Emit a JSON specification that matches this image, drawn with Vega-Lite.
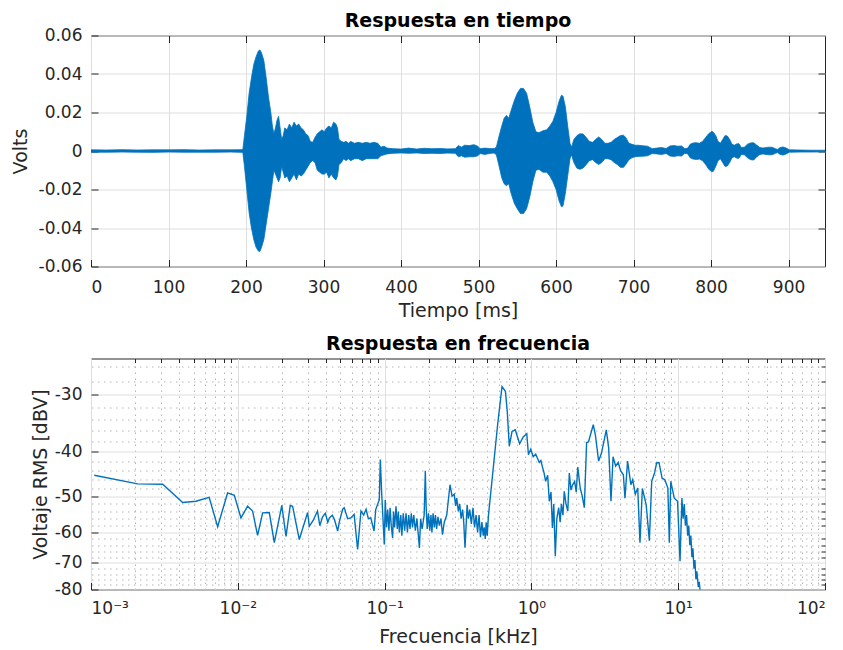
{
  "$schema": "https://vega.github.io/schema/vega-lite/v6.json",
  "background": "white",
  "padding": {"left": 10, "top": 10.5, "right": 5, "bottom": 0},
  "bounds": "flush",
  "spacing": 92,
  "config": {
    "font": "DejaVu Sans",
    "view": {"stroke": "#262626", "strokeWidth": 1},
    "axis": {
      "labelFont": "DejaVu Sans", "labelFontSize": 17, "labelColor": "#262626",
      "titleFont": "DejaVu Sans", "titleFontSize": 19, "titleFontWeight": "normal", "titleColor": "#262626",
      "domain": false, "tickColor": "#262626", "tickSize": -7, "tickWidth": 1,
      "gridColor": "#dedede", "gridWidth": 1
    },
    "title": {"font": "DejaVu Sans", "fontSize": 19, "fontWeight": "bold", "color": "#000000", "offset": -4, "frame": "group"}
  },
  "datasets": {
    "wave": [
      {"t": 0, "hi": 0.0006, "lo": -0.0006}, {"t": 20, "hi": 0.0005, "lo": -0.0006}, {"t": 40, "hi": 0.0007, "lo": -0.0005},
      {"t": 60, "hi": 0.0005, "lo": -0.0006}, {"t": 80, "hi": 0.0006, "lo": -0.0007}, {"t": 100, "hi": 0.0006, "lo": -0.0005},
      {"t": 120, "hi": 0.0007, "lo": -0.0006}, {"t": 140, "hi": 0.0005, "lo": -0.0006}, {"t": 160, "hi": 0.0006, "lo": -0.0006},
      {"t": 180, "hi": 0.0006, "lo": -0.0005}, {"t": 195, "hi": 0.0007, "lo": -0.0007},
      {"t": 196, "hi": 0.001, "lo": -0.001}, {"t": 198, "hi": 0.008, "lo": -0.008}, {"t": 201, "hi": 0.018, "lo": -0.02},
      {"t": 204, "hi": 0.03, "lo": -0.032}, {"t": 207, "hi": 0.038, "lo": -0.04}, {"t": 210, "hi": 0.045, "lo": -0.046},
      {"t": 213, "hi": 0.049, "lo": -0.05}, {"t": 216, "hi": 0.052, "lo": -0.052}, {"t": 218, "hi": 0.0525, "lo": -0.0522},
      {"t": 220, "hi": 0.051, "lo": -0.05}, {"t": 223, "hi": 0.047, "lo": -0.046}, {"t": 226, "hi": 0.038, "lo": -0.038},
      {"t": 229, "hi": 0.028, "lo": -0.03}, {"t": 232, "hi": 0.02, "lo": -0.022}, {"t": 234, "hi": 0.013, "lo": -0.016},
      {"t": 236, "hi": 0.009, "lo": -0.01}, {"t": 238, "hi": 0.012, "lo": -0.012}, {"t": 240, "hi": 0.016, "lo": -0.014},
      {"t": 242, "hi": 0.018, "lo": -0.016}, {"t": 244, "hi": 0.012, "lo": -0.014}, {"t": 246, "hi": 0.006, "lo": -0.008},
      {"t": 248, "hi": 0.008, "lo": -0.011}, {"t": 250, "hi": 0.012, "lo": -0.014}, {"t": 253, "hi": 0.011, "lo": -0.013},
      {"t": 256, "hi": 0.014, "lo": -0.016}, {"t": 259, "hi": 0.012, "lo": -0.014}, {"t": 262, "hi": 0.015, "lo": -0.012},
      {"t": 265, "hi": 0.013, "lo": -0.015}, {"t": 268, "hi": 0.014, "lo": -0.012}, {"t": 271, "hi": 0.012, "lo": -0.013},
      {"t": 274, "hi": 0.011, "lo": -0.012}, {"t": 277, "hi": 0.009, "lo": -0.01}, {"t": 280, "hi": 0.008, "lo": -0.008},
      {"t": 283, "hi": 0.005, "lo": -0.006}, {"t": 286, "hi": 0.0045, "lo": -0.005}, {"t": 289, "hi": 0.007, "lo": -0.006},
      {"t": 292, "hi": 0.009, "lo": -0.01}, {"t": 295, "hi": 0.01, "lo": -0.011}, {"t": 298, "hi": 0.011, "lo": -0.012},
      {"t": 301, "hi": 0.01, "lo": -0.012}, {"t": 304, "hi": 0.012, "lo": -0.011}, {"t": 307, "hi": 0.013, "lo": -0.014},
      {"t": 310, "hi": 0.012, "lo": -0.012}, {"t": 313, "hi": 0.015, "lo": -0.014}, {"t": 316, "hi": 0.014, "lo": -0.015},
      {"t": 318, "hi": 0.012, "lo": -0.013}, {"t": 320, "hi": 0.006, "lo": -0.007}, {"t": 323, "hi": 0.005, "lo": -0.006},
      {"t": 326, "hi": 0.0045, "lo": -0.004}, {"t": 329, "hi": 0.005, "lo": -0.005}, {"t": 332, "hi": 0.004, "lo": -0.004},
      {"t": 335, "hi": 0.005, "lo": -0.005}, {"t": 340, "hi": 0.004, "lo": -0.004}, {"t": 345, "hi": 0.0045, "lo": -0.004},
      {"t": 350, "hi": 0.004, "lo": -0.005}, {"t": 355, "hi": 0.0045, "lo": -0.004}, {"t": 360, "hi": 0.004, "lo": -0.004},
      {"t": 365, "hi": 0.0045, "lo": -0.004}, {"t": 370, "hi": 0.004, "lo": -0.004}, {"t": 374, "hi": 0.002, "lo": -0.0025},
      {"t": 378, "hi": 0.0025, "lo": -0.002}, {"t": 382, "hi": 0.0015, "lo": -0.0015}, {"t": 390, "hi": 0.0012, "lo": -0.0012},
      {"t": 400, "hi": 0.001, "lo": -0.001}, {"t": 410, "hi": 0.0015, "lo": -0.0012}, {"t": 420, "hi": 0.001, "lo": -0.001},
      {"t": 430, "hi": 0.0014, "lo": -0.0013}, {"t": 440, "hi": 0.0012, "lo": -0.0012}, {"t": 450, "hi": 0.0013, "lo": -0.0013},
      {"t": 460, "hi": 0.0011, "lo": -0.0011}, {"t": 470, "hi": 0.0012, "lo": -0.0012}, {"t": 474, "hi": 0.0028, "lo": -0.003},
      {"t": 478, "hi": 0.002, "lo": -0.0025}, {"t": 482, "hi": 0.003, "lo": -0.0032}, {"t": 488, "hi": 0.0028, "lo": -0.003},
      {"t": 494, "hi": 0.0033, "lo": -0.003}, {"t": 499, "hi": 0.0025, "lo": -0.0025}, {"t": 502, "hi": 0.0012, "lo": -0.0013},
      {"t": 508, "hi": 0.0015, "lo": -0.0018}, {"t": 514, "hi": 0.0013, "lo": -0.0013}, {"t": 520, "hi": 0.0012, "lo": -0.001},
      {"t": 523, "hi": 0.002, "lo": -0.002}, {"t": 526, "hi": 0.007, "lo": -0.007}, {"t": 530, "hi": 0.013, "lo": -0.014},
      {"t": 533, "hi": 0.017, "lo": -0.017}, {"t": 536, "hi": 0.0185, "lo": -0.018}, {"t": 539, "hi": 0.017, "lo": -0.017},
      {"t": 542, "hi": 0.021, "lo": -0.022}, {"t": 546, "hi": 0.026, "lo": -0.027}, {"t": 550, "hi": 0.03, "lo": -0.03},
      {"t": 554, "hi": 0.0325, "lo": -0.0325}, {"t": 558, "hi": 0.0325, "lo": -0.0325}, {"t": 562, "hi": 0.03, "lo": -0.03},
      {"t": 566, "hi": 0.023, "lo": -0.024}, {"t": 570, "hi": 0.015, "lo": -0.016}, {"t": 574, "hi": 0.01, "lo": -0.01},
      {"t": 578, "hi": 0.0095, "lo": -0.0095}, {"t": 583, "hi": 0.0105, "lo": -0.011}, {"t": 588, "hi": 0.011, "lo": -0.011},
      {"t": 592, "hi": 0.013, "lo": -0.013}, {"t": 596, "hi": 0.0155, "lo": -0.016}, {"t": 600, "hi": 0.02, "lo": -0.02},
      {"t": 604, "hi": 0.026, "lo": -0.026}, {"t": 607, "hi": 0.029, "lo": -0.029}, {"t": 609, "hi": 0.0285, "lo": -0.0285},
      {"t": 612, "hi": 0.023, "lo": -0.022}, {"t": 615, "hi": 0.013, "lo": -0.013}, {"t": 618, "hi": 0.004, "lo": -0.004},
      {"t": 620, "hi": 0.002, "lo": -0.002}, {"t": 623, "hi": 0.006, "lo": -0.006}, {"t": 627, "hi": 0.008, "lo": -0.009},
      {"t": 631, "hi": 0.009, "lo": -0.0095}, {"t": 635, "hi": 0.0088, "lo": -0.0088}, {"t": 639, "hi": 0.007, "lo": -0.007},
      {"t": 643, "hi": 0.005, "lo": -0.005}, {"t": 647, "hi": 0.0045, "lo": -0.0045}, {"t": 651, "hi": 0.006, "lo": -0.006},
      {"t": 655, "hi": 0.0073, "lo": -0.007}, {"t": 659, "hi": 0.006, "lo": -0.006}, {"t": 663, "hi": 0.004, "lo": -0.004},
      {"t": 667, "hi": 0.004, "lo": -0.004}, {"t": 671, "hi": 0.0045, "lo": -0.0045}, {"t": 675, "hi": 0.006, "lo": -0.006},
      {"t": 679, "hi": 0.007, "lo": -0.007}, {"t": 683, "hi": 0.008, "lo": -0.0085}, {"t": 687, "hi": 0.0082, "lo": -0.0085},
      {"t": 690, "hi": 0.007, "lo": -0.007}, {"t": 694, "hi": 0.004, "lo": -0.0045}, {"t": 698, "hi": 0.0035, "lo": -0.0035},
      {"t": 702, "hi": 0.003, "lo": -0.003}, {"t": 706, "hi": 0.003, "lo": -0.0028}, {"t": 712, "hi": 0.0027, "lo": -0.0027},
      {"t": 718, "hi": 0.0025, "lo": -0.0025}, {"t": 724, "hi": 0.0012, "lo": -0.0013}, {"t": 730, "hi": 0.0015, "lo": -0.0015},
      {"t": 736, "hi": 0.0018, "lo": -0.0018}, {"t": 742, "hi": 0.0013, "lo": -0.0013}, {"t": 747, "hi": 0.0026, "lo": -0.0026},
      {"t": 752, "hi": 0.0028, "lo": -0.0028}, {"t": 757, "hi": 0.0025, "lo": -0.0025}, {"t": 762, "hi": 0.0026, "lo": -0.0026},
      {"t": 766, "hi": 0.0012, "lo": -0.0012}, {"t": 770, "hi": 0.0015, "lo": -0.0015}, {"t": 773, "hi": 0.0035, "lo": -0.0035},
      {"t": 777, "hi": 0.0042, "lo": -0.0042}, {"t": 781, "hi": 0.0043, "lo": -0.0044}, {"t": 785, "hi": 0.004, "lo": -0.0042},
      {"t": 789, "hi": 0.005, "lo": -0.005}, {"t": 793, "hi": 0.007, "lo": -0.007}, {"t": 797, "hi": 0.009, "lo": -0.0095},
      {"t": 801, "hi": 0.0102, "lo": -0.0108}, {"t": 803, "hi": 0.0098, "lo": -0.0105}, {"t": 806, "hi": 0.008, "lo": -0.008},
      {"t": 809, "hi": 0.005, "lo": -0.005}, {"t": 812, "hi": 0.004, "lo": -0.004}, {"t": 815, "hi": 0.006, "lo": -0.006},
      {"t": 818, "hi": 0.008, "lo": -0.008}, {"t": 821, "hi": 0.0078, "lo": -0.0078}, {"t": 824, "hi": 0.006, "lo": -0.006},
      {"t": 827, "hi": 0.0035, "lo": -0.0035}, {"t": 830, "hi": 0.003, "lo": -0.003}, {"t": 833, "hi": 0.0037, "lo": -0.0037},
      {"t": 836, "hi": 0.0038, "lo": -0.0038}, {"t": 839, "hi": 0.0018, "lo": -0.0018}, {"t": 843, "hi": 0.002, "lo": -0.002},
      {"t": 847, "hi": 0.0035, "lo": -0.0035}, {"t": 851, "hi": 0.0042, "lo": -0.0045}, {"t": 855, "hi": 0.0043, "lo": -0.0047},
      {"t": 859, "hi": 0.003, "lo": -0.003}, {"t": 863, "hi": 0.0018, "lo": -0.0018}, {"t": 867, "hi": 0.0015, "lo": -0.0015},
      {"t": 871, "hi": 0.0018, "lo": -0.0018}, {"t": 875, "hi": 0.002, "lo": -0.002}, {"t": 879, "hi": 0.0019, "lo": -0.0019},
      {"t": 883, "hi": 0.0012, "lo": -0.0012}, {"t": 886, "hi": 0.0008, "lo": -0.0008}, {"t": 889, "hi": 0.0018, "lo": -0.0018},
      {"t": 893, "hi": 0.0021, "lo": -0.0021}, {"t": 897, "hi": 0.0015, "lo": -0.0015}, {"t": 901, "hi": 0.0006, "lo": -0.0006},
      {"t": 915, "hi": 0.0005, "lo": -0.0005}, {"t": 930, "hi": 0.0004, "lo": -0.0005}, {"t": 947, "hi": 0.0004, "lo": -0.0004}
    ],
    "spec": [
      {"f": 0.001053, "v": -45.0}, {"f": 0.00208, "v": -47.0}, {"f": 0.00308, "v": -47.1}, {"f": 0.00421, "v": -51.6},
      {"f": 0.00519, "v": -51.3}, {"f": 0.00638, "v": -50.3}, {"f": 0.00729, "v": -58.3}, {"f": 0.00852, "v": -49.2},
      {"f": 0.00947, "v": -49.8}, {"f": 0.01051, "v": -55.8}, {"f": 0.01166, "v": -52.6}, {"f": 0.01261, "v": -53.9},
      {"f": 0.01364, "v": -60.9}, {"f": 0.01476, "v": -54.4}, {"f": 0.01639, "v": -54.3}, {"f": 0.01773, "v": -63.2},
      {"f": 0.01994, "v": -52.4}, {"f": 0.0213, "v": -61.2}, {"f": 0.02276, "v": -52.4}, {"f": 0.02362, "v": -52.6},
      {"f": 0.02624, "v": -62.2}, {"f": 0.02989, "v": -54.3}, {"f": 0.0307, "v": -58.2}, {"f": 0.0326, "v": -56.5},
      {"f": 0.0349, "v": -53.9}, {"f": 0.0362, "v": -58.0}, {"f": 0.0378, "v": -55.5}, {"f": 0.0395, "v": -54.5},
      {"f": 0.041, "v": -57.0}, {"f": 0.0421, "v": -55.8}, {"f": 0.044, "v": -55.0}, {"f": 0.0455, "v": -56.2},
      {"f": 0.0479, "v": -59.6}, {"f": 0.0491, "v": -57.0}, {"f": 0.0518, "v": -53.4}, {"f": 0.0531, "v": -53.0},
      {"f": 0.056, "v": -56.0}, {"f": 0.0588, "v": -55.8}, {"f": 0.062, "v": -54.8}, {"f": 0.0655, "v": -65.4},
      {"f": 0.069, "v": -53.9}, {"f": 0.072, "v": -55.0}, {"f": 0.0748, "v": -53.4}, {"f": 0.0775, "v": -56.0},
      {"f": 0.0805, "v": -55.8}, {"f": 0.0847, "v": -59.6}, {"f": 0.087, "v": -53.5}, {"f": 0.092, "v": -50.9},
      {"f": 0.0935, "v": -41.6}, {"f": 0.0955, "v": -49.2}, {"f": 0.0995, "v": -63.8}, {"f": 0.101, "v": -51.0},
      {"f": 0.103, "v": -58.5}, {"f": 0.105, "v": -53.5}, {"f": 0.107, "v": -59.5}, {"f": 0.109, "v": -53.0},
      {"f": 0.111, "v": -58.0}, {"f": 0.1134, "v": -61.7}, {"f": 0.115, "v": -54.0}, {"f": 0.117, "v": -58.5},
      {"f": 0.1196, "v": -52.6}, {"f": 0.122, "v": -59.0}, {"f": 0.124, "v": -54.0}, {"f": 0.126, "v": -60.0},
      {"f": 0.129, "v": -55.0}, {"f": 0.131, "v": -61.0}, {"f": 0.134, "v": -54.5}, {"f": 0.137, "v": -59.5},
      {"f": 0.14, "v": -54.5}, {"f": 0.143, "v": -60.0}, {"f": 0.146, "v": -55.0}, {"f": 0.149, "v": -59.0},
      {"f": 0.152, "v": -54.5}, {"f": 0.155, "v": -58.5}, {"f": 0.158, "v": -55.0}, {"f": 0.162, "v": -59.5},
      {"f": 0.166, "v": -56.0}, {"f": 0.1726, "v": -64.9}, {"f": 0.176, "v": -56.0}, {"f": 0.18, "v": -59.0},
      {"f": 0.186, "v": -55.0}, {"f": 0.1894, "v": -44.0}, {"f": 0.192, "v": -53.0}, {"f": 0.195, "v": -59.0},
      {"f": 0.199, "v": -54.5}, {"f": 0.203, "v": -59.5}, {"f": 0.207, "v": -55.0}, {"f": 0.21, "v": -60.0},
      {"f": 0.214, "v": -54.5}, {"f": 0.218, "v": -58.5}, {"f": 0.222, "v": -55.0}, {"f": 0.226, "v": -59.0},
      {"f": 0.231, "v": -55.5}, {"f": 0.236, "v": -58.0}, {"f": 0.242, "v": -56.0}, {"f": 0.248, "v": -60.7},
      {"f": 0.255, "v": -57.0}, {"f": 0.265, "v": -55.0}, {"f": 0.279, "v": -47.2}, {"f": 0.288, "v": -50.0},
      {"f": 0.2977, "v": -49.5}, {"f": 0.305, "v": -52.5}, {"f": 0.31, "v": -50.5}, {"f": 0.318, "v": -54.0},
      {"f": 0.325, "v": -52.0}, {"f": 0.332, "v": -56.0}, {"f": 0.34, "v": -53.5}, {"f": 0.346, "v": -57.0},
      {"f": 0.353, "v": -64.8}, {"f": 0.365, "v": -52.2}, {"f": 0.372, "v": -56.0}, {"f": 0.38, "v": -53.5},
      {"f": 0.39, "v": -57.5}, {"f": 0.4, "v": -53.0}, {"f": 0.41, "v": -58.5}, {"f": 0.42, "v": -55.0},
      {"f": 0.43, "v": -60.0}, {"f": 0.44, "v": -55.0}, {"f": 0.45, "v": -61.5}, {"f": 0.46, "v": -57.0},
      {"f": 0.47, "v": -61.0}, {"f": 0.477, "v": -58.5}, {"f": 0.485, "v": -62.0}, {"f": 0.492, "v": -57.0},
      {"f": 0.5, "v": -61.0}, {"f": 0.51, "v": -55.0},
      {"f": 0.5439, "v": -44.9}, {"f": 0.5887, "v": -34.9}, {"f": 0.6305, "v": -28.8}, {"f": 0.6653, "v": -29.5},
      {"f": 0.6845, "v": -32.6}, {"f": 0.7071, "v": -38.9}, {"f": 0.738, "v": -36.1}, {"f": 0.776, "v": -35.8},
      {"f": 0.8315, "v": -38.4}, {"f": 0.88, "v": -37.1}, {"f": 0.93, "v": -36.5}, {"f": 0.9547, "v": -40.6},
      {"f": 0.99, "v": -39.5}, {"f": 1.029, "v": -41.0}, {"f": 1.07, "v": -40.5}, {"f": 1.132, "v": -42.2},
      {"f": 1.16, "v": -41.8}, {"f": 1.19, "v": -43.2}, {"f": 1.22, "v": -44.5}, {"f": 1.25, "v": -46.4},
      {"f": 1.29, "v": -45.0}, {"f": 1.324, "v": -51.3}, {"f": 1.36, "v": -49.0}, {"f": 1.39, "v": -58.7},
      {"f": 1.42, "v": -52.0}, {"f": 1.455, "v": -67.7}, {"f": 1.49, "v": -56.0}, {"f": 1.534, "v": -53.0},
      {"f": 1.57, "v": -57.0}, {"f": 1.6, "v": -52.0}, {"f": 1.64, "v": -55.0}, {"f": 1.675, "v": -48.8},
      {"f": 1.72, "v": -52.0}, {"f": 1.77, "v": -53.9}, {"f": 1.812, "v": -44.5},
      {"f": 1.86, "v": -48.5}, {"f": 1.904, "v": -47.3}, {"f": 1.97, "v": -46.4}, {"f": 2.02, "v": -49.0}, {"f": 2.07, "v": -43.2}, {"f": 2.15, "v": -48.0},
      {"f": 2.22, "v": -50.0}, {"f": 2.293, "v": -53.0}, {"f": 2.377, "v": -38.2}, {"f": 2.45, "v": -38.0}, {"f": 2.64, "v": -34.9},
      {"f": 2.73, "v": -36.8}, {"f": 2.87, "v": -41.9}, {"f": 3.0, "v": -40.3}, {"f": 3.237, "v": -35.8},
      {"f": 3.36, "v": -39.2}, {"f": 3.485, "v": -51.3}, {"f": 3.6, "v": -41.0}, {"f": 3.75, "v": -43.0}, {"f": 3.9, "v": -42.2},
      {"f": 4.05, "v": -44.0}, {"f": 4.23, "v": -44.9}, {"f": 4.34, "v": -50.5}, {"f": 4.52, "v": -41.9}, {"f": 4.76, "v": -47.2},
      {"f": 4.9, "v": -46.0}, {"f": 5.1, "v": -49.5}, {"f": 5.3, "v": -48.0}, {"f": 5.49, "v": -63.2}, {"f": 5.7, "v": -48.1}, {"f": 6.05, "v": -52.2},
      {"f": 6.36, "v": -62.6}, {"f": 6.6, "v": -46.4}, {"f": 6.9, "v": -44.5}, {"f": 7.13, "v": -42.3}, {"f": 7.4, "v": -42.2},
      {"f": 7.77, "v": -45.7}, {"f": 8.1, "v": -46.0}, {"f": 8.5, "v": -48.0}, {"f": 8.7, "v": -63.2},
      {"f": 8.9, "v": -46.4}, {"f": 9.4, "v": -50.5}, {"f": 9.9, "v": -51.3}, {"f": 10.29, "v": -69.4},
      {"f": 10.6, "v": -50.5}, {"f": 10.8, "v": -56.0}, {"f": 11.0, "v": -52.0}, {"f": 11.2, "v": -58.0},
      {"f": 11.4, "v": -55.0}, {"f": 11.6, "v": -61.0}, {"f": 11.8, "v": -58.0}, {"f": 12.0, "v": -64.0},
      {"f": 12.2, "v": -61.0}, {"f": 12.4, "v": -68.0}, {"f": 12.6, "v": -65.0}, {"f": 12.8, "v": -72.0},
      {"f": 13.0, "v": -69.0}, {"f": 13.2, "v": -76.0}, {"f": 13.4, "v": -73.0}, {"f": 13.7, "v": -79.0},
      {"f": 13.9, "v": -77.0}, {"f": 14.2, "v": -82.0}
    ]
  },
  "vconcat": [
    {
      "width": 734, "height": 231,
      "title": {"text": "Respuesta en tiempo"},
      "data": {"name": "wave"},
      "layer": [
        {
          "mark": {"type": "area", "color": "#0072BD", "stroke": "#0072BD", "strokeWidth": 0.8, "clip": true},
          "encoding": {
            "x": {"field": "t", "type": "quantitative", "scale": {"domain": [0, 947], "nice": false},
              "axis": {"orient": "bottom", "values": [0, 100, 200, 300, 400, 500, 600, 700, 800, 900], "title": "Tiempo [ms]", "labelPadding": 20, "titlePadding": 6, "grid": true}},
            "y": {"field": "hi", "type": "quantitative", "scale": {"domain": [-0.06, 0.06], "nice": false},
              "axis": {"orient": "left", "values": [-0.06, -0.04, -0.02, 0, 0.02, 0.04, 0.06], "title": "Volts", "labelPadding": 16, "titlePadding": 8, "grid": true,
                "labelExpr": "datum.value == 0 ? '0' : (datum.value < 0 ? '-' : '') + format(abs(datum.value), '.2f')"}},
            "y2": {"field": "lo"}
          }
        },
        {
          "mark": {"type": "area", "opacity": 0},
          "encoding": {
            "x": {"field": "t", "type": "quantitative", "axis": {"orient": "top", "values": [100, 200, 300, 400, 500, 600, 700, 800, 900], "labels": false, "title": null, "grid": false}},
            "y": {"field": "hi", "type": "quantitative", "axis": {"orient": "right", "values": [-0.04, -0.02, 0, 0.02, 0.04], "labels": false, "title": null, "grid": false}},
            "y2": {"field": "lo"}
          }
        }
      ],
      "resolve": {"axis": {"x": "independent", "y": "independent"}}
    },
    {
      "width": 734, "height": 231,
      "title": {"text": "Respuesta en frecuencia", "offset": 4},
      "data": {"name": "spec"},
      "layer": [
        {
          "mark": {"type": "line", "color": "#0072BD", "strokeWidth": 1.4, "clip": true},
          "encoding": {
            "x": {"field": "f", "type": "quantitative", "scale": {"type": "log", "domain": [0.001, 100], "nice": false},
              "axis": {"orient": "bottom", "values": [0.001, 0.01, 0.1, 1, 10, 100], "title": "Frecuencia [kHz]", "labelPadding": 18, "titlePadding": 11, "grid": true,
                "labelExpr": "datum.value < 0.005 ? '10⁻³' : datum.value < 0.05 ? '10⁻²' : datum.value < 0.5 ? '10⁻¹' : datum.value < 5 ? '10⁰' : datum.value < 50 ? '10¹' : '10²'"}},
            "y": {"field": "v", "type": "quantitative", "scale": {"type": "log", "domain": [-80, -25], "nice": false, "zero": false},
              "axis": {"orient": "left", "values": [-80, -70, -60, -50, -40, -30], "title": "Voltaje RMS [dBV]", "labelPadding": 16, "titlePadding": 4, "grid": true,
                "labelExpr": "'-' + format(abs(datum.value), 'd')"}}
          }
        },
        {
          "mark": {"type": "line", "opacity": 0},
          "encoding": {
            "x": {"field": "f", "type": "quantitative", "axis": {"orient": "top", "labels": false, "title": null, "grid": true, "gridDash": [1.5, 4.5], "gridColor": "#b5b5b5", "tickSize": -4,
              "values": [0.002, 0.003, 0.004, 0.005, 0.006, 0.007, 0.008, 0.009, 0.02, 0.03, 0.04, 0.05, 0.06, 0.07, 0.08, 0.09, 0.2, 0.3, 0.4, 0.5, 0.6, 0.7, 0.8, 0.9, 2, 3, 4, 5, 6, 7, 8, 9, 20, 30, 40, 50, 60, 70, 80, 90]}},
            "y": {"field": "v", "type": "quantitative", "axis": {"orient": "right", "labels": false, "title": null, "grid": true, "gridDash": [1.5, 4.5], "gridColor": "#b5b5b5", "tickSize": -4,
              "values": [-78, -76, -74, -72, -68, -66, -64, -62, -58, -56, -54, -52, -48, -46, -44, -42, -38, -36, -34, -32, -28, -26]}}
          }
        }
      ],
      "resolve": {"axis": {"x": "independent", "y": "independent"}}
    }
  ]
}
